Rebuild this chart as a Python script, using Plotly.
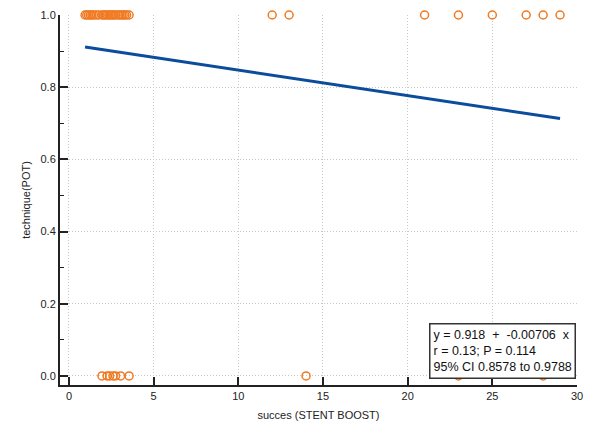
import numpy as np
import plotly.graph_objects as go

# Observations: x = succes (STENT BOOST), y = technique(POT)
x_pot1 = [0.95, 1.05, 1.15, 1.25, 1.35, 1.45, 1.6, 1.75, 1.95, 2.05, 2.15, 2.25,
          2.35, 2.45, 2.55, 2.65, 2.75, 2.9, 3.0, 3.1, 3.2, 3.3, 3.4, 3.55,
          12, 13, 21, 23, 25, 27, 28, 29]
x_pot0 = [1.95, 2.25, 2.4, 2.6, 2.75, 3.05, 3.55, 14, 23, 28]

# Regression summary
intercept = 0.918
slope = -0.00706
stats_lines = ["y = 0.918  +  -0.00706  x",
               "r = 0.13; P = 0.114",
               "95% CI 0.8578 to 0.9788"]

x_all = np.array(x_pot1 + x_pot0)
y_all = np.array([1.0] * len(x_pot1) + [0.0] * len(x_pot0))
x_fit = np.array([x_all.min(), x_all.max()])
y_fit = intercept + slope * x_fit

fig = go.Figure()
fig.add_trace(go.Scatter(
    x=x_all, y=y_all, mode="markers",
    marker=dict(symbol="circle-open", size=8, color="#f07a22",
                line=dict(width=1.5, color="#f07a22")),
    cliponaxis=False, showlegend=False))
fig.add_trace(go.Scatter(
    x=x_fit, y=y_fit, mode="lines",
    line=dict(color="#0b4c9c", width=3), showlegend=False))

fig.add_annotation(
    x=1.0, y=0.0, xref="paper", yref="y", xanchor="right", yanchor="bottom",
    xshift=-1, yshift=-3,
    text="<br>".join(stats_lines), align="left", showarrow=False,
    font=dict(family="Liberation Sans, Arial, sans-serif", size=12.5, color="#111111"),
    bgcolor="white", bordercolor="#333333", borderwidth=1.5, borderpad=3)

axis_font = dict(family="Liberation Sans, Arial, sans-serif", size=11, color="#222222")

fig.update_xaxes(
    range=[-0.53, 30], tickvals=[0, 5, 10, 15, 20, 25, 30],
    ticks="inside", ticklen=8, tickwidth=2, tickcolor="#222222",
    showline=True, linecolor="#222222", linewidth=2, mirror=False,
    showgrid=True, gridcolor="#c8c8c8", griddash="1px,2px", gridwidth=1,
    zeroline=False, tickfont=axis_font, automargin=False,
    title=dict(text="succes (STENT BOOST)", font=axis_font, standoff=10))
fig.update_yaxes(
    range=[-0.025, 1.0], tickvals=[0, 0.2, 0.4, 0.6, 0.8, 1.0], tickformat=".1f",
    ticks="inside", ticklen=8, tickwidth=2, tickcolor="#222222",
    minor=dict(ticks="inside", ticklen=4, tickwidth=1, tickcolor="#222222",
               dtick=0.1, showgrid=False),
    showline=True, linecolor="#222222", linewidth=2, mirror=False,
    showgrid=True, gridcolor="#c8c8c8", griddash="1px,2px", gridwidth=1,
    zeroline=False, tickfont=axis_font, automargin=False,
    title=dict(text="technique(POT)", font=axis_font, standoff=8))

fig.update_layout(
    width=592, height=421,
    margin=dict(l=60, r=15, t=15, b=36),
    paper_bgcolor="white", plot_bgcolor="white",
    font=axis_font)

fig.write_html("out.html")
